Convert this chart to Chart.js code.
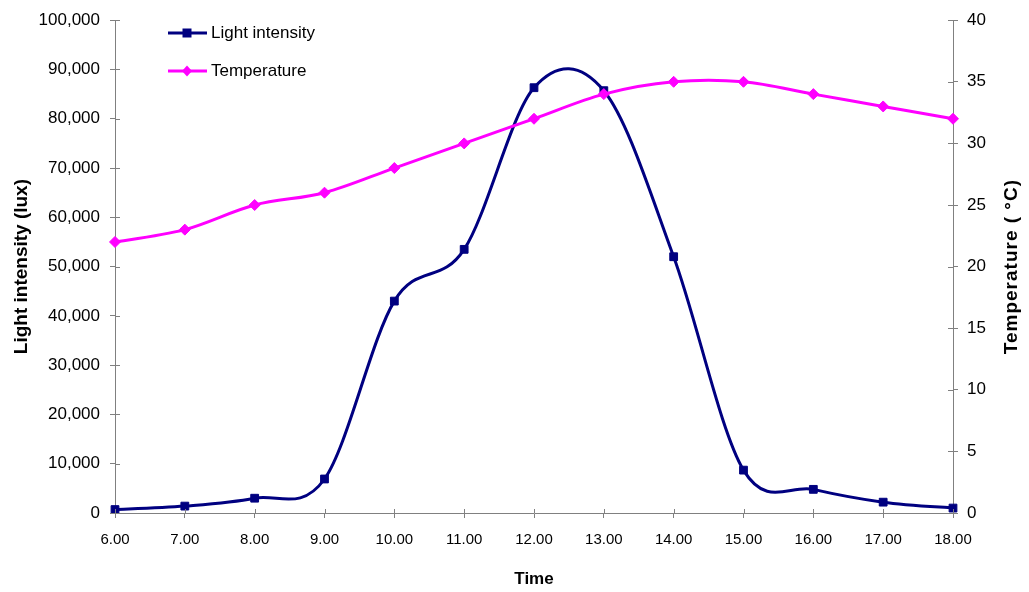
<!DOCTYPE html>
<html>
<head>
<meta charset="utf-8">
<title>Light intensity and temperature</title>
<script src="https://cdn.jsdelivr.net/npm/chart.js@4.4.1/dist/chart.umd.min.js"></script>
<style>
  html, body { margin: 0; padding: 0; background: #fff; }
  #wrap { width: 1029px; height: 592px; position: relative; }
</style>
</head>
<body>
<div id="wrap"><canvas id="lightChart"></canvas></div>
<script>
// hourly readings
const hours = ['6.00', '7.00', '8.00', '9.00', '10.00', '11.00', '12.00', '13.00', '14.00', '15.00', '16.00', '17.00', '18.00'];
const lightLux = [700, 1400, 3000, 6900, 43000, 53500, 86300, 85700, 52000, 8700, 4800, 2200, 1000];
const temperatureC = [22, 23, 25, 26, 28, 30, 32, 34, 35, 35, 34, 33, 32];

const NAVY = '#000080';
const MAGENTA = '#FF00FF';
const AXIS_GREY = '#808080';
const FONT = "'Liberation Sans', Arial, sans-serif";

// smooth the lines the way spreadsheet charts do (uniform Catmull-Rom)
const smoothLines = {
    id: 'smoothLines',
    beforeDatasetsDraw(chart) {
        chart.data.datasets.forEach((ds, i) => {
            const meta = chart.getDatasetMeta(i);
            const line = meta.dataset;
            line.updateControlPoints(chart.chartArea, meta.indexAxis);
            const pts = meta.data;
            pts.forEach((p, j) => {
                const prev = pts[j - 1] || p;
                const next = pts[j + 1] || p;
                const dx = (next.x - prev.x) / 6;
                const dy = (next.y - prev.y) / 6;
                p.cp1x = p.x - dx;
                p.cp1y = p.y - dy;
                p.cp2x = p.x + dx;
                p.cp2y = p.y + dy;
            });
            line._path = undefined;
        });
    }
};

// tick marks that cross the axis lines, right hand title and the legend
const decorations = {
    id: 'decorations',
    afterDraw(chart) {
        const ctx = chart.ctx;
        const area = chart.chartArea;
        const { x, y, y1 } = chart.scales;

        ctx.save();
        ctx.strokeStyle = AXIS_GREY;
        ctx.lineWidth = 1;
        ctx.beginPath();
        x.ticks.forEach((t, i) => {
            const px = Math.round(x.getPixelForTick(i)) + 0.5;
            ctx.moveTo(px, area.bottom);
            ctx.lineTo(px, area.bottom - 4);
        });
        y.ticks.forEach((t, i) => {
            const py = Math.round(y.getPixelForTick(i)) + 0.5;
            ctx.moveTo(area.left, py);
            ctx.lineTo(area.left + 5, py);
        });
        y1.ticks.forEach((t, i) => {
            const py = Math.round(y1.getPixelForTick(i)) + 0.5;
            ctx.moveTo(area.right, py);
            ctx.lineTo(area.right - 5, py);
        });
        ctx.stroke();

        // right axis title reads bottom to top
        ctx.fillStyle = '#000';
        ctx.font = 'bold 19px ' + FONT;
        ctx.letterSpacing = '1px';
        ctx.textAlign = 'center';
        ctx.textBaseline = 'middle';
        ctx.translate(1012, (area.top + area.bottom) / 2);
        ctx.rotate(-Math.PI / 2);
        ctx.fillText('Temperature ( °C)', 0, 0);
        ctx.restore();

        // legend
        const items = [
            { text: 'Light intensity', color: NAVY, marker: 'rect', y: 33 },
            { text: 'Temperature', color: MAGENTA, marker: 'diamond', y: 71 }
        ];
        ctx.save();
        items.forEach(it => {
            ctx.strokeStyle = it.color;
            ctx.fillStyle = it.color;
            ctx.lineWidth = 3;
            ctx.beginPath();
            ctx.moveTo(168, it.y);
            ctx.lineTo(207, it.y);
            ctx.stroke();
            const cx = 187;
            ctx.beginPath();
            if (it.marker === 'rect') {
                ctx.rect(cx - 4.5, it.y - 4.5, 9, 9);
            } else {
                ctx.moveTo(cx, it.y - 5.5);
                ctx.lineTo(cx + 5, it.y);
                ctx.lineTo(cx, it.y + 5.5);
                ctx.lineTo(cx - 5, it.y);
                ctx.closePath();
            }
            ctx.fill();
            ctx.fillStyle = '#000';
            ctx.font = '17px ' + FONT;
            ctx.textAlign = 'left';
            ctx.textBaseline = 'middle';
            ctx.fillText(it.text, 211, it.y);
        });
        ctx.restore();
    }
};

const ctx = document.getElementById('lightChart').getContext('2d');
new Chart(ctx, {
    type: 'line',
    data: {
        labels: hours,
        datasets: [
            {
                label: 'Light intensity',
                data: lightLux,
                yAxisID: 'y',
                borderColor: NAVY,
                backgroundColor: NAVY,
                borderWidth: 3,
                tension: 0.4,
                pointStyle: 'rect',
                pointRadius: 5.5,
                pointBorderWidth: 1,
                order: 1
            },
            {
                label: 'Temperature',
                data: temperatureC,
                yAxisID: 'y1',
                borderColor: MAGENTA,
                backgroundColor: MAGENTA,
                borderWidth: 3,
                tension: 0.4,
                pointStyle: 'rectRot',
                pointRadius: 5.5,
                pointBorderWidth: 1,
                order: 0
            }
        ]
    },
    options: {
        responsive: true,
        maintainAspectRatio: false,
        animation: false,
        layout: { padding: { top: 18, left: 0, right: 0, bottom: 0 } },
        plugins: {
            legend: { display: false },
            tooltip: { enabled: false }
        },
        scales: {
            x: {
                type: 'category',
                offset: false,
                afterFit: scale => { scale.height = 79; },
                grid: { drawOnChartArea: false, tickLength: 5, color: AXIS_GREY },
                border: { color: AXIS_GREY, width: 1 },
                ticks: { color: '#000', font: { family: FONT, size: 15 }, padding: 13, maxRotation: 0 },
                title: {
                    display: true,
                    text: 'Time',
                    color: '#000',
                    font: { family: FONT, size: 17, weight: 'bold' },
                    padding: { top: 0, bottom: 2 }
                }
            },
            y: {
                position: 'left',
                min: 0,
                max: 100000,
                afterFit: scale => { scale.width = 115; },
                grid: { drawOnChartArea: false, tickLength: 5, color: AXIS_GREY },
                border: { color: AXIS_GREY, width: 1 },
                ticks: {
                    stepSize: 10000,
                    color: '#000',
                    font: { family: FONT, size: 17 },
                    padding: 10,
                    callback: v => v.toLocaleString('en-US')
                },
                title: {
                    display: true,
                    text: 'Light intensity (lux)',
                    color: '#000',
                    font: { family: FONT, size: 19, weight: 'bold' },
                    padding: { top: 10, bottom: 0 }
                }
            },
            y1: {
                position: 'right',
                min: 0,
                max: 40,
                afterFit: scale => { scale.width = 76; },
                grid: { drawOnChartArea: false, tickLength: 5, color: AXIS_GREY },
                border: { color: AXIS_GREY, width: 1 },
                ticks: {
                    stepSize: 5,
                    color: '#000',
                    font: { family: FONT, size: 17 },
                    padding: 9
                }
            }
        }
    },
    plugins: [smoothLines, decorations]
});
</script>
</body>
</html>
